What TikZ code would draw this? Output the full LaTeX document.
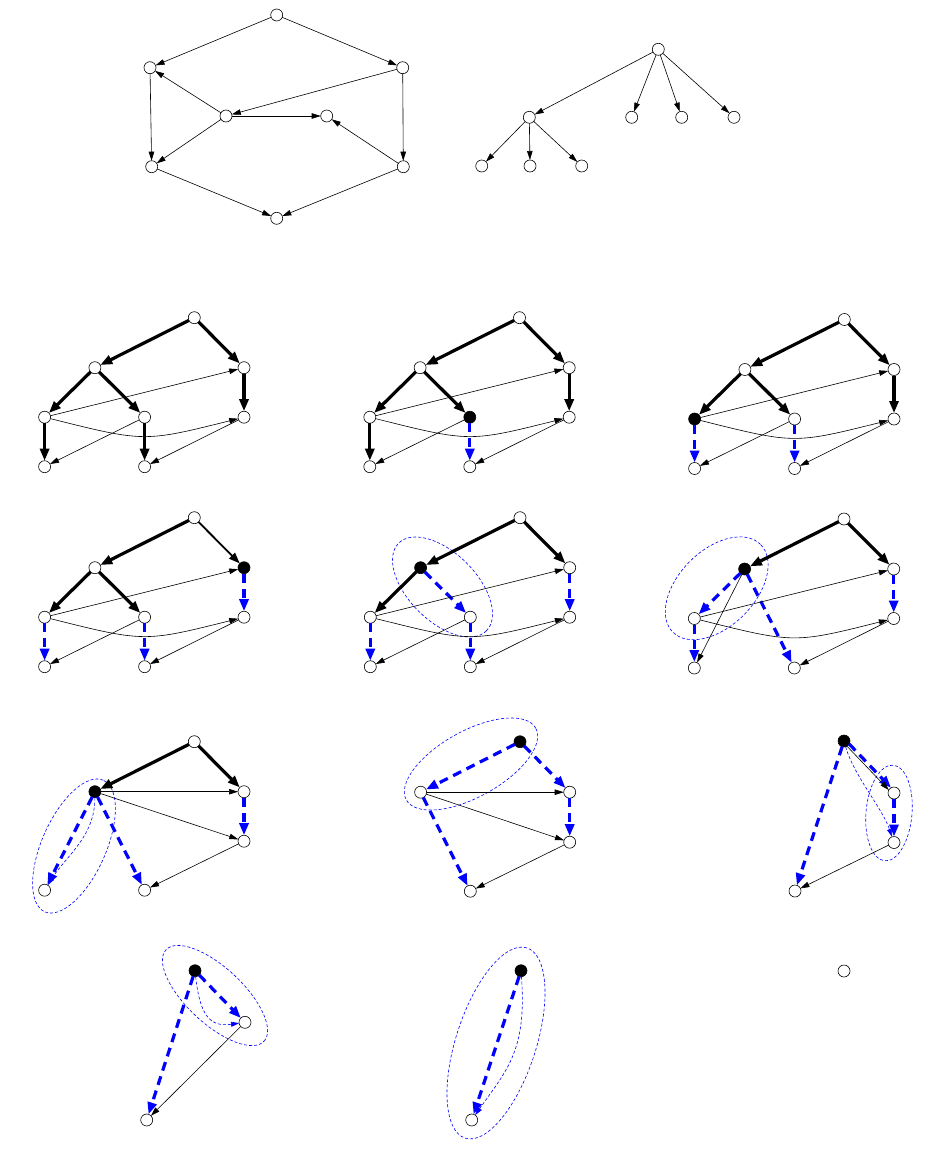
\documentclass[tikz,border=0pt]{standalone}
\usetikzlibrary{arrows.meta}
\tikzset{
 vtx/.style={circle, draw=black, line width=0.6pt, fill=white, minimum size=12pt, inner sep=0pt, outer sep=0pt},
 cur/.style={vtx, fill=black},
 ethin/.style={draw=black, line width=0.6pt, -{Triangle[length=9pt,width=5.5pt]}},
 ethick/.style={draw=black, line width=3.2pt, -{Triangle[length=12pt,width=9pt]}},
 emid/.style={draw=black, line width=1.8pt, -{Triangle[length=11pt,width=8pt]}},
 edash/.style={draw=blue, line width=3.2pt, dash pattern=on 9pt off 6pt, -{Triangle[length=12pt,width=9pt]}},
 ddash/.style={draw=blue, line width=0.6pt, dash pattern=on 3pt off 2pt, -{Triangle[length=8pt,width=5pt]}},
 ell/.style={draw=blue, line width=0.6pt, dash pattern=on 3pt off 2pt},
}
\newcommand\stdthin[1]{%
 \draw[ethin] (#1C) -- (#1B);
 \draw[ethin] (#1C) .. controls +(100,25) and +(-100,25) .. (#1E);
 \draw[ethin] (#1D) -- (#1F);
 \draw[ethin] (#1E) -- (#1G);}
\begin{document}
\begin{tikzpicture}[x=1pt,y=-1pt,line join=miter]
\useasboundingbox (0,0) rectangle (932,1174);
\fill[white] (0,0) rectangle (932,1174);

% ---------- top-left graph ----------
\node[vtx] (g0) at (276.7,15) {};
\node[vtx] (g1) at (150,67.7) {};
\node[vtx] (g2) at (402.7,67.7) {};
\node[vtx] (g3) at (226,116) {};
\node[vtx] (g4) at (326.7,116) {};
\node[vtx] (g5) at (151.7,166.7) {};
\node[vtx] (g6) at (403.3,166.7) {};
\node[vtx] (g7) at (276.7,218.3) {};
\draw[ethin] (g0) -- (g1);
\draw[ethin] (g0) -- (g2);
\draw[ethin] (g1) -- (g5);
\draw[ethin] (g2) -- (g6);
\draw[ethin] (g3) -- (g1);
\draw[ethin] (g2) -- (g3);
\draw[ethin] (g3) -- (g4);
\draw[ethin] (g6) -- (g4);
\draw[ethin] (g3) -- (g5);
\draw[ethin] (g5) -- (g7);
\draw[ethin] (g6) -- (g7);

% ---------- top-right tree ----------
\node[vtx] (t0) at (658.3,49.3) {};
\node[vtx] (t1) at (529.3,117.3) {};
\node[vtx] (t2) at (631.7,117.3) {};
\node[vtx] (t3) at (681.7,117.3) {};
\node[vtx] (t4) at (734,117.3) {};
\node[vtx] (t5) at (481.7,166) {};
\node[vtx] (t6) at (530,166) {};
\node[vtx] (t7) at (581.7,166) {};
\foreach \k in {1,2,3,4} {\draw[ethin] (t0) -- (t\k);}
\foreach \k in {5,6,7} {\draw[ethin] (t1) -- (t\k);}

% ---------- panel 1 ----------
\begin{scope}[shift={(194.3,317.7)}]
\node[vtx] (aT) at (0,0) {};
\node[vtx] (aA) at (-99.4,50) {};
\node[vtx] (aB) at (49.7,50) {};
\node[vtx] (aC) at (-149.7,99.5) {};
\node[vtx] (aD) at (-49.7,99.5) {};
\node[vtx] (aE) at (49.7,99.5) {};
\node[vtx] (aF) at (-149.7,149) {};
\node[vtx] (aG) at (-49.7,149) {};
\end{scope}
\draw[ethick] (aT) -- (aA);
\draw[ethick] (aT) -- (aB);
\draw[ethick] (aA) -- (aC);
\draw[ethick] (aA) -- (aD);
\draw[ethick] (aB) -- (aE);
\draw[ethick] (aC) -- (aF);
\draw[ethick] (aD) -- (aG);
\stdthin{a}

% ---------- panel 2 ----------
\begin{scope}[shift={(519.5,317.7)}]
\node[vtx] (bT) at (0,0) {};
\node[vtx] (bA) at (-99.4,50) {};
\node[vtx] (bB) at (49.7,50) {};
\node[vtx] (bC) at (-149.7,99.5) {};
\node[cur] (bD) at (-49.7,99.5) {};
\node[vtx] (bE) at (49.7,99.5) {};
\node[vtx] (bF) at (-149.7,149) {};
\node[vtx] (bG) at (-49.7,149) {};
\end{scope}
\draw[ethick] (bT) -- (bA);
\draw[ethick] (bT) -- (bB);
\draw[ethick] (bA) -- (bC);
\draw[ethick] (bA) -- (bD);
\draw[ethick] (bB) -- (bE);
\draw[ethick] (bC) -- (bF);
\draw[edash] (bD) -- (bG);
\stdthin{b}

% ---------- panel 3 ----------
\begin{scope}[shift={(844.3,319.5)}]
\node[vtx] (cT) at (0,0) {};
\node[vtx] (cA) at (-99.4,50) {};
\node[vtx] (cB) at (49.7,50) {};
\node[cur] (cC) at (-149.7,99.5) {};
\node[vtx] (cD) at (-49.7,99.5) {};
\node[vtx] (cE) at (49.7,99.5) {};
\node[vtx] (cF) at (-149.7,149) {};
\node[vtx] (cG) at (-49.7,149) {};
\end{scope}
\draw[ethick] (cT) -- (cA);
\draw[ethick] (cT) -- (cB);
\draw[ethick] (cA) -- (cC);
\draw[ethick] (cA) -- (cD);
\draw[ethick] (cB) -- (cE);
\draw[edash] (cC) -- (cF);
\draw[edash] (cD) -- (cG);
\stdthin{c}

% ---------- panel 4 ----------
\begin{scope}[shift={(194.3,517.7)}]
\node[vtx] (dT) at (0,0) {};
\node[vtx] (dA) at (-99.4,50) {};
\node[cur] (dB) at (49.7,50) {};
\node[vtx] (dC) at (-149.7,99.5) {};
\node[vtx] (dD) at (-49.7,99.5) {};
\node[vtx] (dE) at (49.7,99.5) {};
\node[vtx] (dF) at (-149.7,149) {};
\node[vtx] (dG) at (-49.7,149) {};
\end{scope}
\draw[ethick] (dT) -- (dA);
\draw[emid] (dT) -- (dB);
\draw[ethick] (dA) -- (dC);
\draw[ethick] (dA) -- (dD);
\draw[edash] (dB) -- (dE);
\draw[edash] (dC) -- (dF);
\draw[edash] (dD) -- (dG);
\stdthin{d}

% ---------- panel 5 ----------
\begin{scope}[shift={(520,517.7)}]
\node[vtx] (eT) at (0,0) {};
\node[cur] (eA) at (-99.4,50) {};
\node[vtx] (eB) at (49.7,50) {};
\node[vtx] (eC) at (-149.7,99.5) {};
\node[vtx] (eD) at (-49.7,99.5) {};
\node[vtx] (eE) at (49.7,99.5) {};
\node[vtx] (eF) at (-149.7,149) {};
\node[vtx] (eG) at (-49.7,149) {};
\end{scope}
\draw[ell, rotate around={-45:(442.5,587)}] (442.5,587) ellipse [x radius=62pt, y radius=34pt];
\draw[ethick] (eT) -- (eA);
\draw[ethick] (eT) -- (eB);
\draw[ethick] (eA) -- (eC);
\draw[edash] (eA) -- (eD);
\draw[edash] (eB) -- (eE);
\draw[edash] (eC) -- (eF);
\draw[edash] (eD) -- (eG);
\stdthin{e}

% ---------- panel 6 ----------
\begin{scope}[shift={(844,519)}]
\node[vtx] (fT) at (0,0) {};
\node[cur] (fA) at (-99.4,50) {};
\node[vtx] (fB) at (49.7,50) {};
\node[vtx] (fC) at (-149.7,99.5) {};
\node[vtx] (fE) at (49.7,99.5) {};
\node[vtx] (fF) at (-149.7,149) {};
\node[vtx] (fG) at (-49.7,149) {};
\end{scope}
\draw[ell, rotate around={45:(716.7,588.3)}] (716.7,588.3) ellipse [x radius=62pt, y radius=38pt];
\draw[ethick] (fT) -- (fA);
\draw[ethick] (fT) -- (fB);
\draw[edash] (fA) -- (fC);
\draw[edash] (fA) -- (fG);
\draw[edash] (fC) -- (fF);
\draw[edash] (fB) -- (fE);
\draw[ethin] (fA) -- (fF);
\draw[ethin] (fC) -- (fB);
\draw[ethin] (fC) .. controls +(100,25) and +(-100,25) .. (fE);
\draw[ethin] (fE) -- (fG);

% ---------- panel 7 ----------
\begin{scope}[shift={(194.3,741.7)}]
\node[vtx] (gT) at (0,0) {};
\node[cur] (gA) at (-99.4,50) {};
\node[vtx] (gB) at (49.7,50) {};
\node[vtx] (gE) at (49.7,99.5) {};
\node[vtx] (gF) at (-149.7,148.5) {};
\node[vtx] (gG) at (-49.7,148.5) {};
\end{scope}
\draw[ell, rotate around={66:(74,846)}] (74,846) ellipse [x radius=72pt, y radius=32pt];
\draw[ethick] (gT) -- (gA);
\draw[ethick] (gT) -- (gB);
\draw[edash] (gA) -- (gF);
\draw[ddash] (gA) .. controls +(0,45) and +(22,-35) .. (gF);
\draw[edash] (gA) -- (gG);
\draw[edash] (gB) -- (gE);
\draw[ethin] (gA) -- (gB);
\draw[ethin] (gA) -- (gE);
\draw[ethin] (gE) -- (gG);

% ---------- panel 8 ----------
\begin{scope}[shift={(520,741.7)}]
\node[cur] (hT) at (0,0) {};
\node[vtx] (hA) at (-99.4,50.5) {};
\node[vtx] (hB) at (49.7,50.5) {};
\node[vtx] (hE) at (49.7,100.5) {};
\node[vtx] (hG) at (-49.7,149.5) {};
\end{scope}
\draw[ell, rotate around={29:(471,764)}] (471,764) ellipse [x radius=74pt, y radius=33pt];
\draw[edash] (hT) -- (hA);
\draw[edash] (hT) -- (hB);
\draw[edash] (hA) -- (hG);
\draw[edash] (hB) -- (hE);
\draw[ethin] (hA) -- (hB);
\draw[ethin] (hA) -- (hE);
\draw[ethin] (hE) -- (hG);

% ---------- panel 9 ----------
\begin{scope}[shift={(844,741)}]
\node[cur] (iT) at (0,0) {};
\node[vtx] (iB) at (50,52) {};
\node[vtx] (iE) at (50,101.5) {};
\node[vtx] (iG) at (-49,150) {};
\end{scope}
\draw[ell, rotate around={85:(889,813)}] (889,813) ellipse [x radius=48pt, y radius=23pt];
\draw[edash] (iT) -- (iG);
\draw[edash] (iT.-30) -- (iB.120);
\draw[ethin] (iT.-60) -- (iB.150);
\draw[ddash] (iT) .. controls +(10,35) and +(-12,-35) .. (iE);
\draw[edash] (iB) -- (iE);
\draw[ethin] (iE) -- (iG);

% ---------- panel 10 ----------
\begin{scope}[shift={(195,970.7)}]
\node[cur] (jT) at (0,0) {};
\node[vtx] (jB) at (50,51.6) {};
\node[vtx] (jG) at (-48.3,149.3) {};
\end{scope}
\draw[ell, rotate around={-43:(215,995.5)}] (215,995.5) ellipse [x radius=67pt, y radius=28pt];
\draw[edash] (jT) -- (jG);
\draw[edash] (jT) -- (jB);
\draw[ddash] (jT) .. controls +(5,45) and +(-35,5) .. (jB);
\draw[ethin] (jB) -- (jG);

% ---------- panel 11 ----------
\begin{scope}[shift={(521,970.7)}]
\node[cur] (kT) at (0,0) {};
\node[vtx] (kG) at (-49.3,149.3) {};
\end{scope}
\draw[ell, rotate around={72:(496,1043)}] (496,1043) ellipse [x radius=100pt, y radius=40pt];
\draw[edash] (kT) -- (kG);
\draw[ddash] (kT) .. controls +(6,80) and +(35,-50) .. (kG);

% ---------- panel 12 ----------
\node[vtx] (lT) at (844,971) {};
\end{tikzpicture}
\end{document}
